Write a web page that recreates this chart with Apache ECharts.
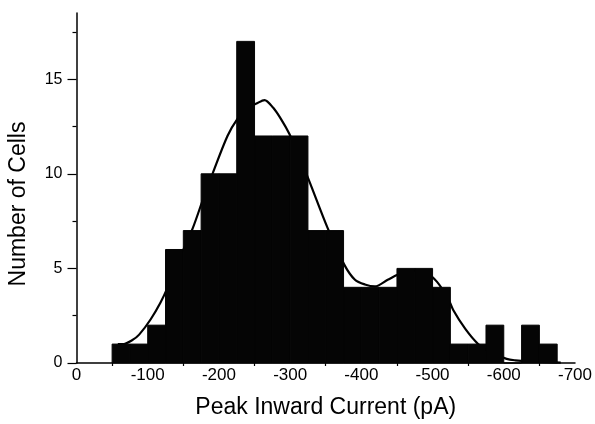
<!DOCTYPE html>
<html>
<head>
<meta charset="utf-8">
<script src="https://cdn.jsdelivr.net/npm/echarts@6/dist/echarts.min.js"></script>
<style>
  html, body { margin: 0; padding: 0; background: #fff; }
  #chart { width: 595px; height: 424px; }
</style>
</head>
<body>
<div id="chart"></div>
<script>
// Histogram of peak inward current, 25 pA bins
const binStarts  = [-50, -75, -100, -125, -150, -175, -200, -225, -250, -275, -300, -325, -350,
                    -375, -400, -425, -450, -475, -500, -525, -550, -575, -600, -625, -650];
const binEnds    = [-75, -100, -125, -150, -175, -200, -225, -250, -275, -300, -325, -350, -375,
                    -400, -425, -450, -475, -500, -525, -550, -575, -600, -625, -650, -675];
const cellCounts = [1, 1, 2, 6, 7, 10, 10, 17, 12, 12, 12, 7, 7,
                    4, 4, 4, 5, 5, 4, 1, 1, 2, 0, 2, 1];

// Fitted distribution curve
const fitCurrent = [-58, -66, -78, -88, -104, -118, -128, -142, -163, -179, -191, -212, -226,
                    -240, -252, -264, -276, -287, -299, -313, -327, -353, -376, -391, -405,
                    -419, -437, -453, -470, -490, -506, -522, -529, -546, -564, -580, -604,
                    -616, -635, -660, -680];
const fitCount   = [1.0, 1.0, 1.2, 1.5, 2.3, 3.2, 4.0, 5.3, 7.1, 8.8, 10.0, 12.0, 12.9,
                    13.5, 13.7, 13.9, 13.5, 12.9, 12.1, 10.9, 9.6, 7.1, 5.2, 4.4, 4.15,
                    4.05, 4.4, 4.7, 4.9, 4.8, 4.3, 3.4, 2.8, 1.8, 1.0, 0.6, 0.22,
                    0.14, 0.08, 0.04, 0.02];

// Axis tick labels
const xTickValues = [0, -100, -200, -300, -400, -500, -600, -700];
const yTickValues = [0, 5, 10, 15];

const FONT = '"Liberation Sans", Arial, Helvetica, sans-serif';
const histData  = binStarts.map((s, i) => [s, binEnds[i], cellCounts[i]]);
const curveData = fitCurrent.map((x, i) => [x, fitCount[i]]);

const chart = echarts.init(document.getElementById('chart'), null, { renderer: 'canvas' });

chart.setOption({
  animation: false,
  backgroundColor: '#fff',
  grid: { left: 76.5, right: 20, top: 13, bottom: 57, containLabel: false },
  xAxis: {
    type: 'value',
    min: -700,
    max: 0,
    interval: 100,
    inverse: true,
    axisLine: { show: true, lineStyle: { color: '#000', width: 1.5 } },
    axisTick: { show: false },
    minorTick: { show: true, splitNumber: 2, length: 3, lineStyle: { color: '#000', width: 1.2 } },
    splitLine: { show: false },
    minorSplitLine: { show: false },
    axisLabel: { color: '#000', fontSize: 17, fontFamily: FONT, margin: 4, customValues: xTickValues },
    name: 'Peak Inward Current (pA)',
    nameLocation: 'middle',
    nameGap: 33,
    nameTextStyle: { color: '#000', fontSize: 23, fontFamily: FONT }
  },
  yAxis: {
    type: 'value',
    min: 0,
    max: 18.5,
    interval: 5,
    axisLine: { show: true, lineStyle: { color: '#000', width: 1.5 } },
    axisTick: { show: true, length: 9, customValues: yTickValues, lineStyle: { color: '#000', width: 1.2 } },
    minorTick: { show: true, splitNumber: 2, length: 4, lineStyle: { color: '#000', width: 1.2 } },
    splitLine: { show: false },
    minorSplitLine: { show: false },
    axisLabel: { color: '#000', fontSize: 16, fontFamily: FONT, margin: 14, customValues: yTickValues }
  },
  graphic: [{
    type: 'text',
    x: 19,
    y: 204,
    rotation: Math.PI / 2,
    style: {
      text: 'Number of Cells',
      font: '23px ' + FONT,
      fill: '#000',
      align: 'center',
      verticalAlign: 'middle'
    }
  }],
  series: [
    {
      type: 'line',
      data: curveData,
      smooth: 0.3,
      showSymbol: false,
      z: 1,
      lineStyle: { color: '#000', width: 2.2 }
    },
    {
      type: 'custom',
      data: histData,
      z: 2,
      encode: { x: [0, 1], y: 2 },
      renderItem: function (params, api) {
        const p0 = api.coord([api.value(0), api.value(2)]);
        const p1 = api.coord([api.value(1), 0]);
        const x = Math.min(p0[0], p1[0]);
        const w = Math.abs(p1[0] - p0[0]);
        return {
          type: 'rect',
          shape: { x: x, y: p0[1], width: w, height: p1[1] - p0[1] },
          style: { fill: '#050505', stroke: '#050505', lineWidth: 1 }
        };
      }
    }
  ]
});
</script>
</body>
</html>
